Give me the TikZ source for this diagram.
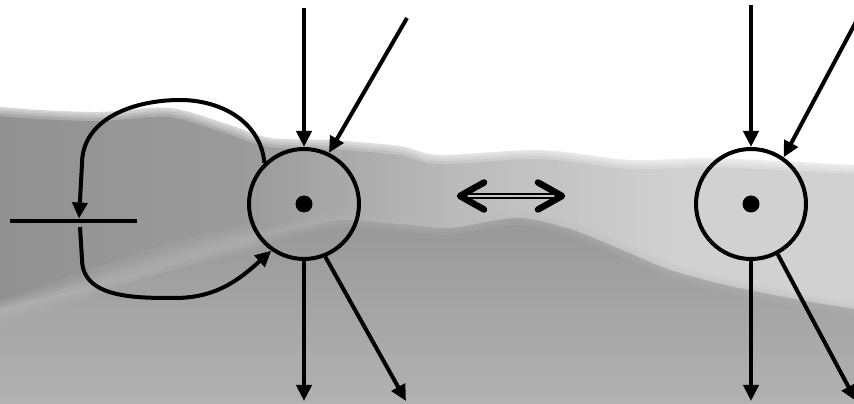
\documentclass[tikz,border=0pt]{standalone}
\usetikzlibrary{arrows.meta}
\definecolor{ridgeA1}{HTML}{919191}
\definecolor{ridgeA2}{HTML}{9C9C9C}
\definecolor{ridgeA3}{HTML}{BBBBBB}
\definecolor{ridgeA4}{HTML}{D1D1D1}
\definecolor{ridgeBtop}{HTML}{989898}
\definecolor{ridgeBbot}{HTML}{B2B2B2}
\definecolor{bandlight}{HTML}{B4B4B4}
\definecolor{shaftfill}{HTML}{C8C8C8}
\pgfdeclarehorizontalshading{ridgeAshade}{100bp}{color(0bp)=(ridgeA1); color(25bp)=(ridgeA1); color(40bp)=(ridgeA2); color(52bp)=(ridgeA3); color(65bp)=(ridgeA4); color(75bp)=(ridgeA4); color(100bp)=(ridgeA4)}
\begin{document}
\begin{tikzpicture}[x=1pt,y=1pt,
  wire/.style={line width=4pt},
  arr/.style={wire,-{Triangle[length=16pt,width=15pt]}},
  place/.style={circle,draw,line width=4pt,minimum size=110pt,inner sep=0pt},
  chevron/.style={line width=6.5pt,line cap=round,line join=round},
  mist/.style={white,opacity=.22}]
\useasboundingbox (0,0) rectangle (854,404);
% ---- background: misty mountains ----
\begin{scope}
\clip (0,0) rectangle (854,404);
\fill[white] (0,0) rectangle (854,404);
\def\ridgeA{plot[smooth] coordinates {(0,297) (40,294) (100,292) (170,296) (230,279) (270,266) (330,264) (400,258) (440,249) (540,254) (630,244) (700,246) (760,244) (854,239)}}
\def\ridgeB{plot[smooth] coordinates {(0,95) (80,115) (150,135) (230,158) (280,172) (340,184) (400,180) (450,176) (517,186) (570,175) (620,155) (670,134) (730,118) (800,104) (854,95)}}
\shade[shading=ridgeAshade] \ridgeA -- (854,0) -- (0,0) -- cycle;
\foreach \w in {18,12,7,3} {\draw[mist,line width=\w pt] \ridgeA;}
\shade[top color=ridgeBtop,bottom color=ridgeBbot] \ridgeB -- (854,0) -- (0,0) -- cycle;
\foreach \w in {14,8,3} {\draw[line width=\w pt,ridgeA3,opacity=.15] \ridgeB;}
\foreach \w in {26,16,8} {\draw[line width=\w pt,bandlight,opacity=.2,line cap=round] plot[smooth] coordinates {(-10,86) (100,124) (180,150) (250,166)};}
\end{scope}
% ---- left net ----
\node[place] (c1) at (304,200) {};
\fill (c1.center) circle (8.5);
\coordinate (t1) at (304,396);
\coordinate (d1) at (407,386);
\coordinate (b1) at (304,3);
\coordinate (e1) at (406,3);
\draw[arr] (t1) -- (c1);
\draw[arr] (d1) -- (c1.64);
\draw[arr] (c1) -- (b1);
\draw[arr] (c1.-68) -- (e1);
% transition bar and loop
\coordinate (barL) at (10,183);
\coordinate (barR) at (137,183);
\draw[line width=4.5pt] (barL) -- (barR);
\coordinate (u1) at (79,185.5);
\coordinate (l0) at (80,177);
\draw[arr] (c1.134) to[out=95,in=0] (180,304) to[out=180,in=90] (82,240) -- (u1);
\draw[arr] (l0) -- (82,145) to[out=-90,in=180] (175,106) to[out=0,in=222] (c1.235);
% ---- equivalence arrow ----
\coordinate (ea) at (463,208);
\coordinate (eb) at (559,208);
\draw[line width=2.2pt,double=shaftfill,double distance=1.8pt] (ea) -- (eb);
\draw[chevron] (484,221.5) -- (460,208) -- (484,194.5);
\draw[chevron] (538,221.5) -- (562,208) -- (538,194.5);
% ---- right net ----
\node[place] (c2) at (751,200) {};
\fill (c2.center) circle (8.5);
\coordinate (t2) at (751,399);
\coordinate (d2) at (858,386);
\coordinate (b2) at (751,3);
\coordinate (e2) at (856,3);
\begin{scope}
\clip (0,0) rectangle (854,404);
\draw[arr] (t2) -- (c2);
\draw[arr] (d2) -- (c2.55);
\draw[arr] (c2) -- (b2);
\draw[arr] (c2.-62) -- (e2);
\end{scope}
\end{tikzpicture}
\end{document}
